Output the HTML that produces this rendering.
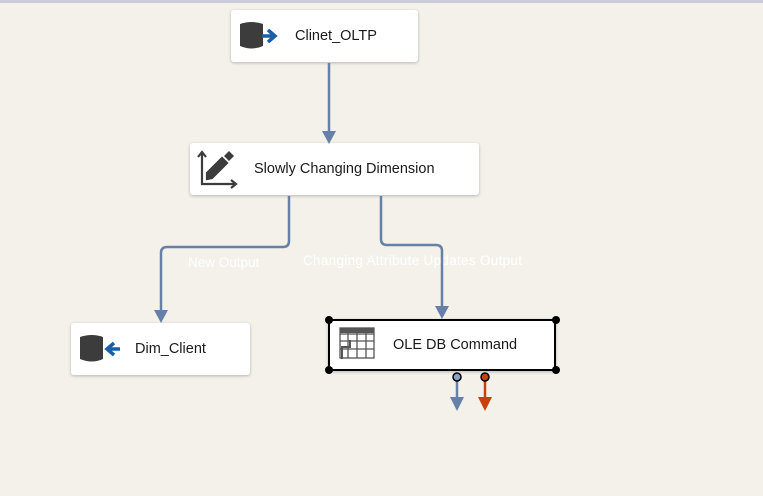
<!DOCTYPE html>
<html><head><style>
body{margin:0;width:763px;height:496px;background:#f4f1ea;position:relative;overflow:hidden;font-family:"Liberation Sans",sans-serif}
.top{position:absolute;left:0;top:0;width:763px;height:3px;background:#c9ccd8}
.box{position:absolute;background:#fff;border-radius:3px;box-shadow:0 1px 3px rgba(0,0,0,.25);font-size:14.5px;color:#1a1a1a}
.box span{position:absolute;top:50%;transform:translateY(-50%)}
.lbl{position:absolute;color:#fff;font-size:13.5px;white-space:nowrap}
</style></head><body>
<div class="top"></div>
<div class="box" style="left:231px;top:10px;width:187px;height:52px"><span style="left:64px">Clinet_OLTP</span></div>
<div class="box" style="left:190px;top:143px;width:289px;height:52px"><span style="left:64px">Slowly Changing Dimension</span></div>
<div class="box" style="left:71px;top:323px;width:179px;height:52px"><span style="left:64px">Dim_Client</span></div>
<div class="box" style="left:328px;top:319px;width:228px;height:52px;border:2px solid #000;box-sizing:border-box;border-radius:0"><span style="left:63px">OLE DB Command</span></div>
<div class="lbl" style="left:188px;top:255px">New Output</div>
<div class="lbl" style="left:303px;top:253px;letter-spacing:0.3px">Changing Attribute Updates Output</div>
<svg width="763" height="496" style="position:absolute;left:0;top:0">
<g fill="none" stroke="#6680a8" stroke-width="2.5">
<path d="M329 63V134"/>
<path d="M289 196V241Q289 247 283 247H167Q161 247 161 253V314"/>
<path d="M381 196V239Q381 245 387 245H436Q442 245 442 251V310"/>
<path d="M457 381V400"/>
</g>
<path d="M485 381V400" stroke="#c8400c" stroke-width="2.5"/>
<g fill="#6680a8">
<path d="M322 131H336L329 144Z"/>
<path d="M154 310H168L161 323Z"/>
<path d="M435 306H449L442 319Z"/>
<path d="M450 397H464L457 411Z"/>
</g>
<path d="M478 397H492L485 411Z" fill="#c8400c"/>
<circle cx="457" cy="377" r="4" fill="#8aa3c8" stroke="#000" stroke-width="1.5"/>
<circle cx="485" cy="377" r="4" fill="#c8400c" stroke="#000" stroke-width="1.5"/>
<g fill="#000"><circle cx="329" cy="320" r="4"/><circle cx="556" cy="320" r="4"/><circle cx="329" cy="370" r="4"/><circle cx="556" cy="370" r="4"/></g>
<g fill="#3c3c3c">
<path d="M240 24Q252 20 263 24V46Q252 51 240 46Z"/>
<path d="M80 337Q92 333 103 337V359Q92 364 80 359Z"/>
</g>
<path d="M262 36H272M268 30L275 36L268 42" stroke="#1a5ea8" stroke-width="3.5" fill="none"/>
<path d="M120 349H110M114 343L107 349L114 355" stroke="#1a5ea8" stroke-width="3.5" fill="none"/>
<g stroke="#3c3c3c" stroke-width="2.2" fill="none">
<path d="M202 153V184H235M198 157L202 152L206 157M231 180L236 184L231 188"/>
<path d="M207 179L212 178L227 163L222 158L207 173Z" fill="#3c3c3c"/>
</g>
<path d="M224 156L229 151L234 156L229 161Z" fill="#3c3c3c"/>
<g stroke="#555" stroke-width="1.3" fill="none">
<rect x="340" y="328" width="34" height="30"/>
<path d="M340 334H374M340 341H374M340 349H374M348 328V358M357 328V358M366 328V358"/>
</g>
<rect x="340" y="328" width="34" height="5" fill="#555"/>
<path d="M342 359V347H350V340" stroke="#555" stroke-width="2" fill="none"/>
</svg>
</body></html>
